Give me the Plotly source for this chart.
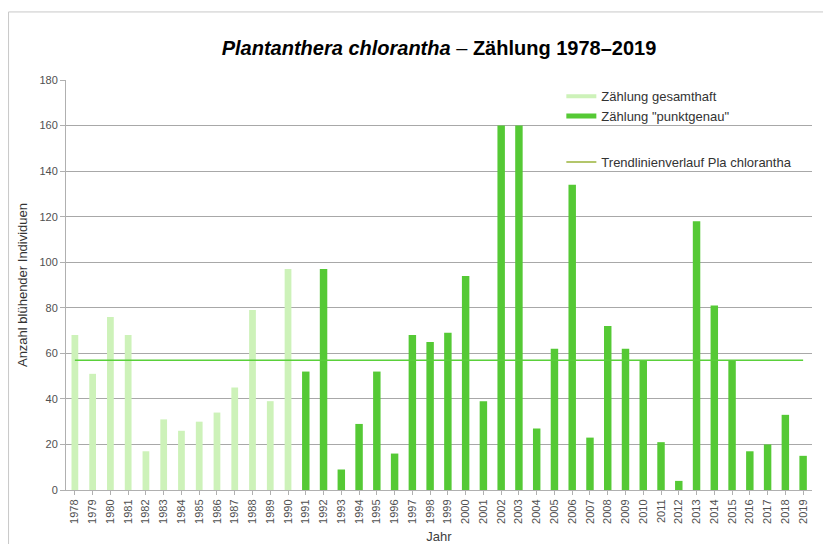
import plotly.graph_objects as go

years_total = [str(y) for y in range(1978, 1991)]
values_total = [68, 51, 76, 68, 17, 31, 26, 30, 34, 45, 79, 39, 97]

years_point = [str(y) for y in range(1991, 2020)]
values_point = [52, 97, 9, 29, 52, 16, 68, 65, 69, 94, 39, 160, 160, 27, 62, 134,
                23, 72, 62, 57, 21, 4, 118, 81, 57, 17, 20, 33, 15]

all_years = years_total + years_point
trend_value = 57

y_ticks = [0, 20, 40, 60, 80, 100, 120, 140, 160, 180]

light = "#cdf2b9"
dark = "#55c935"
trend_col = "#5ad03a"

fig = go.Figure()
fig.add_trace(go.Bar(x=years_total, y=values_total, marker=dict(color=light, line=dict(width=0)),
                     showlegend=False, width=0.38))
fig.add_trace(go.Bar(x=years_point, y=values_point, marker=dict(color=dark, line=dict(width=0)),
                     showlegend=False, width=0.42))
fig.add_trace(go.Scatter(x=all_years, y=[trend_value] * len(all_years), mode="lines",
                         line=dict(color=trend_col, width=1.5), showlegend=False,
                         hoverinfo="skip"))

# legend entries
fig.add_trace(go.Scatter(x=[None], y=[None], mode="lines", name="Zählung gesamthaft",
                         line=dict(color=light, width=4), legendgroup="a"))
fig.add_trace(go.Scatter(x=[None], y=[None], mode="lines", name='Zählung "punktgenau"',
                         line=dict(color=dark, width=5), legendgroup="a"))
fig.add_trace(go.Scatter(x=[None], y=[None], mode="lines", name="Trendlinienverlauf Pla chlorantha",
                         line=dict(color="#9ab33a", width=1.5), legendgroup="b"))

fig.update_layout(
    width=823, height=544,
    margin=dict(l=66, r=11, t=80, b=54, autoexpand=False),
    paper_bgcolor="white", plot_bgcolor="white",
    barmode="overlay",
    font=dict(family="Liberation Sans, Arial, sans-serif", color="#404040"),
    title=dict(text="<b><i>Plantanthera chlorantha</i></b> – <b>Zählung 1978–2019</b>",
               x=0.5, xref="paper", xanchor="center", y=0.912, yanchor="middle",
               font=dict(size=20, color="#000000")),
    legend=dict(x=0.664, y=0.997, xanchor="left", yanchor="top",
                font=dict(size=13, color="#333333"), bgcolor="rgba(255,255,255,0)",
                traceorder="grouped", tracegroupgap=26, itemwidth=30),
    xaxis=dict(type="category", categoryorder="array", categoryarray=all_years,
               automargin=False,
               tickangle=-90, tickfont=dict(size=11, color="#505050"),
               showgrid=False, showline=True, linecolor="#b0b0b0", ticks="outside",
               ticklen=4, tickcolor="#b0b0b0",
               title=dict(text="Jahr", font=dict(size=13, color="#404040"), standoff=10)),
    yaxis=dict(range=[0, 180], tickvals=y_ticks, tickfont=dict(size=11, color="#505050"),
               automargin=False,
               showgrid=True, gridcolor="#a8a8a8", gridwidth=1, showline=True,
               linecolor="#b0b0b0", ticks="outside", ticklen=5, tickcolor="#b0b0b0",
               zeroline=False,
               title=dict(text="Anzahl blühender Individuen", font=dict(size=13, color="#333333"),
                          standoff=8)),
)

fig.add_shape(type="line", xref="paper", yref="paper", x0=-0.077, x1=1.02, y0=1.166, y1=1.166,
              line=dict(color="#c8c8c8", width=1))
fig.add_shape(type="line", xref="paper", yref="paper", x0=-0.077, x1=-0.077, y0=-0.2, y1=1.166,
              line=dict(color="#c8c8c8", width=1))

fig.write_html("out.html")
